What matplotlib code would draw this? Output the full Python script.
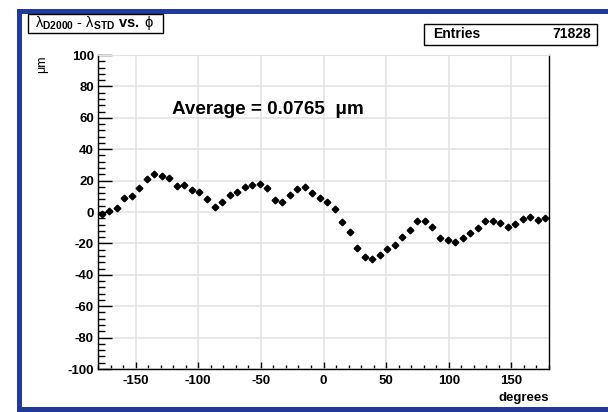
import numpy as np
import matplotlib
matplotlib.use('Agg')
import matplotlib.pyplot as plt
from matplotlib.patches import Rectangle
from matplotlib.ticker import MultipleLocator

# phi bin centres (6 degree bins) and mean residual per bin, in microns
phi = np.arange(-177, 180, 6)
resid = [-1.5, 0.4, 2.8, 9.2, 10.5, 15.0, 21.1, 23.9, 23.0, 21.7,
         16.4, 16.9, 13.9, 13.0, 8.3, 3.2, 6.4, 11.1, 12.6, 15.8,
         16.9, 18.1, 15.1, 7.5, 6.2, 10.7, 14.5, 15.8, 12.1, 8.8,
         6.4, 1.9, -6.1, -12.8, -22.7, -28.5, -30.2, -27.7, -23.6, -21.3,
         -16.0, -11.5, -5.7, -5.9, -9.8, -16.6, -17.6, -18.9, -16.8, -13.6,
         -10.4, -5.5, -5.5, -6.8, -9.3, -7.9, -4.2, -3.4, -4.9, -3.8]
entries = 71828
average = 0.0765

W, H = 608, 412
plt.rcParams['font.family'] = ['Liberation Sans', 'DejaVu Sans']
plt.rcParams['axes.unicode_minus'] = False
plt.rcParams['mathtext.fontset'] = 'custom'
plt.rcParams['mathtext.rm'] = 'Liberation Sans'
plt.rcParams['mathtext.bf'] = 'Liberation Sans:bold'
plt.rcParams['mathtext.it'] = 'Liberation Sans'

fig = plt.figure(figsize=(W / 100, H / 100), dpi=100)


def px(x, y):
    return x / W, 1 - y / H


# canvas frame
blue = '#20399a'
for (x0, y0, x1, y1) in [(17, 9, 608, 14), (17, 9, 22, 412), (17, 407, 608, 412)]:
    fig.add_artist(Rectangle(px(x0, y1), (x1 - x0) / W, (y1 - y0) / H,
                             transform=fig.transFigure, color=blue, lw=0))

ax = fig.add_axes([98 / W, 1 - 369 / H, (549 - 98) / W, (369 - 55) / H])
ax.set_xlim(-180, 180)
ax.set_ylim(-100, 100)
ax.grid(True, color='#e2e2e2', lw=1.1)
ax.set_axisbelow(True)

ax.errorbar(phi, resid, xerr=2.4, fmt='D', color='black', ms=3.4,
            elinewidth=1, capsize=0, zorder=3)

ax.xaxis.set_major_locator(MultipleLocator(50))
ax.xaxis.set_minor_locator(MultipleLocator(10))
ax.yaxis.set_major_locator(MultipleLocator(20))
ax.yaxis.set_minor_locator(MultipleLocator(4))
ax.tick_params(which='both', direction='in', top=False, right=False, color='black')
ax.tick_params(axis='y', which='major', length=10, width=1)
ax.tick_params(axis='y', which='minor', length=5, width=1)
ax.tick_params(axis='x', which='major', length=5, width=1)
ax.tick_params(axis='x', which='minor', length=3, width=1)
ax.tick_params(axis='x', pad=4)
ax.tick_params(axis='y', pad=3)
for lab in ax.get_xticklabels() + ax.get_yticklabels():
    lab.set_fontweight('bold')
    lab.set_fontsize(9.5)
ax.spines['top'].set_color('#e2e2e2')
for s in ['left', 'bottom', 'right']:
    ax.spines[s].set_color('black')
    ax.spines[s].set_linewidth(1)

ax.text(-121, 65, 'Average = %.4f  \u03bcm' % average, fontsize=13.6,
        fontweight='bold', va='center', ha='left')

fig.text(*px(549, 398), 'degrees', fontsize=9.5, fontweight='bold', ha='right', va='center')
fig.text(*px(42, 64), '\u03bcm', fontsize=9, rotation=90, ha='center', va='center')

# title box
fig.add_artist(Rectangle(px(28, 33), (163 - 28) / W, (33 - 14) / H,
                         transform=fig.transFigure, fc='white', ec='black', lw=1))
fig.text(*px(95, 23.5), r'$\lambda_{\mathbf{D2000}}$ - $\lambda_{\mathbf{STD}}$ $\mathbf{vs.}$ $\phi$',
         fontsize=10.5, ha='center', va='center')

# stats box
fig.add_artist(Rectangle(px(424, 45), (597 - 424) / W, (45 - 24) / H,
                         transform=fig.transFigure, fc='white', ec='black', lw=1))
fig.text(*px(433, 34.5), 'Entries', fontsize=10, fontweight='bold', va='center')
fig.text(*px(591, 34.5), str(entries), fontsize=10, fontweight='bold', va='center', ha='right')

fig.savefig('out.png', dpi=100)
